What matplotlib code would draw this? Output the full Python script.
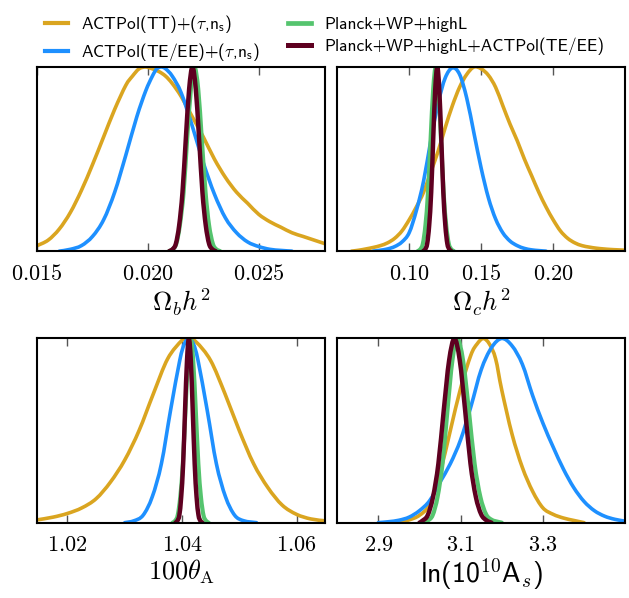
import matplotlib
matplotlib.use('Agg')
import matplotlib.pyplot as plt
from matplotlib.lines import Line2D
from matplotlib.path import Path
from matplotlib.patches import PathPatch

plt.rcParams['mathtext.fontset'] = 'cm'
plt.rcParams['axes.unicode_minus'] = False

# legend entries
labels = [r'ACTPol(TT)+($\tau$,n$_{\mathsf{s}}$)',
          r'ACTPol(TE/EE)+($\tau$,n$_{\mathsf{s}}$)',
          'Planck+WP+highL',
          'Planck+WP+highL+ACTPol(TE/EE)']
colors = ['#DAA520', '#1E90FF', '#55C46E', '#5E0020']

# --- Omega_b h^2 ---
ombh2_tt_x = [0.0150, 0.0155, 0.0160, 0.0165, 0.0170, 0.0175, 0.0180, 0.0185, 0.0190, 0.0193,
              0.0196, 0.0199, 0.0202, 0.0205, 0.0208, 0.0211, 0.0215, 0.0220, 0.0225, 0.0230,
              0.0235, 0.0240, 0.0245, 0.0250, 0.0255, 0.0260, 0.0265, 0.0270, 0.0275, 0.0280]
ombh2_tt_y = [0.03, 0.06, 0.12, 0.21, 0.33, 0.47, 0.62, 0.77, 0.90, 0.95,
              0.99, 1.00, 0.99, 0.975, 0.95, 0.91, 0.84, 0.73, 0.62, 0.50,
              0.40, 0.32, 0.26, 0.20, 0.16, 0.13, 0.10, 0.08, 0.06, 0.04]
ombh2_te_x = [0.0160, 0.0165, 0.0170, 0.0175, 0.0180, 0.0185, 0.0190, 0.0195, 0.0199, 0.0202,
              0.0204, 0.0206, 0.0208, 0.0211, 0.0215, 0.0220, 0.0225, 0.0230, 0.0235, 0.0240,
              0.0245, 0.0250, 0.0255, 0.0260, 0.0265]
ombh2_te_y = [0.0, 0.01, 0.03, 0.08, 0.17, 0.32, 0.52, 0.73, 0.87, 0.95,
              0.99, 1.0, 0.99, 0.95, 0.86, 0.68, 0.48, 0.31, 0.18, 0.10,
              0.05, 0.025, 0.01, 0.004, 0.0]
ombh2_pl_x = [0.02095, 0.02111, 0.02128, 0.02144, 0.02161, 0.02177, 0.02194, 0.02210,
              0.02227, 0.02243, 0.02260, 0.02276, 0.02293, 0.02309, 0.02326]
ombh2_pl_y = [0.0, 0.01, 0.04, 0.14, 0.32, 0.61, 0.88, 1.0, 0.88, 0.61, 0.32, 0.14, 0.04, 0.01, 0.0]
ombh2_pa_x = [0.02096, 0.02111, 0.02126, 0.02141, 0.02156, 0.02171, 0.02186, 0.02201,
              0.02216, 0.02231, 0.02246, 0.02261, 0.02276, 0.02291, 0.02306]
ombh2_pa_y = [0.0, 0.01, 0.04, 0.14, 0.32, 0.61, 0.88, 1.0, 0.88, 0.61, 0.32, 0.14, 0.04, 0.01, 0.0]

# --- Omega_c h^2 ---
omch2_tt_x = [0.060, 0.065, 0.070, 0.075, 0.080, 0.085, 0.090, 0.095, 0.100, 0.105,
              0.110, 0.115, 0.120, 0.125, 0.130, 0.135, 0.140, 0.145, 0.150, 0.155,
              0.160, 0.165, 0.170, 0.175, 0.180, 0.185, 0.190, 0.195, 0.200, 0.205,
              0.210, 0.215, 0.220, 0.225, 0.230, 0.235, 0.240, 0.245, 0.250]
omch2_tt_y = [0.000, 0.005, 0.012, 0.020, 0.030, 0.045, 0.070, 0.110, 0.170, 0.240,
              0.320, 0.430, 0.540, 0.670, 0.790, 0.890, 0.960, 1.000, 0.990, 0.955,
              0.890, 0.790, 0.690, 0.600, 0.500, 0.410, 0.320, 0.240, 0.170, 0.110,
              0.070, 0.045, 0.030, 0.022, 0.016, 0.012, 0.009, 0.007, 0.005]
omch2_te_x = [0.075, 0.080, 0.085, 0.090, 0.095, 0.100, 0.105, 0.110, 0.115, 0.120,
              0.125, 0.130, 0.135, 0.140, 0.145, 0.150, 0.155, 0.160, 0.165, 0.170,
              0.175, 0.180, 0.185, 0.190, 0.195]
omch2_te_y = [0.000, 0.005, 0.012, 0.025, 0.050, 0.100, 0.220, 0.380, 0.600, 0.800,
              0.940, 0.995, 0.960, 0.830, 0.640, 0.450, 0.290, 0.175, 0.100, 0.055,
              0.030, 0.015, 0.007, 0.003, 0.000]
omch2_pl_x = [0.1059, 0.1077, 0.1095, 0.1113, 0.1131, 0.1149, 0.1167, 0.1185,
              0.1203, 0.1221, 0.1239, 0.1257, 0.1275, 0.1293, 0.1311]
omch2_pl_y = [0.0, 0.01, 0.04, 0.14, 0.32, 0.61, 0.88, 1.0, 0.88, 0.61, 0.32, 0.14, 0.04, 0.01, 0.0]
omch2_pa_x = [0.1097, 0.1111, 0.1125, 0.1139, 0.1153, 0.1167, 0.1181, 0.1195,
              0.1209, 0.1223, 0.1237, 0.1251, 0.1265, 0.1279, 0.1293]
omch2_pa_y = [0.0, 0.01, 0.04, 0.14, 0.32, 0.61, 0.88, 1.0, 0.88, 0.61, 0.32, 0.14, 0.04, 0.01, 0.0]

# --- 100 theta_A ---
theta_tt_x = [1.0147, 1.0175, 1.0200, 1.0225, 1.0250, 1.0275, 1.0300, 1.0325, 1.0350, 1.0375,
              1.0400, 1.0410, 1.0425, 1.0450, 1.0475, 1.0500, 1.0525, 1.0550, 1.0575, 1.0600,
              1.0625, 1.0650]
theta_tt_y = [0.015, 0.03, 0.05, 0.08, 0.13, 0.22, 0.34, 0.50, 0.70, 0.89,
              0.99, 1.0, 0.98, 0.88, 0.70, 0.50, 0.32, 0.19, 0.095, 0.045,
              0.02, 0.01]
theta_te_x = [1.0300, 1.0316, 1.0332, 1.0348, 1.0364, 1.0380, 1.0396, 1.0404, 1.0412,
              1.0420, 1.0428, 1.0444, 1.0460, 1.0476, 1.0492, 1.0508, 1.0530]
theta_te_y = [0.0, 0.01, 0.04, 0.14, 0.32, 0.61, 0.88, 0.97, 1.0,
              0.97, 0.88, 0.61, 0.32, 0.14, 0.04, 0.01, 0.0]
theta_pl_x = [1.03835, 1.0388, 1.03925, 1.0397, 1.04015, 1.0406, 1.04105, 1.0415,
              1.04195, 1.0424, 1.04285, 1.0433, 1.04375, 1.0442, 1.04465]
theta_pl_y = [0.0, 0.01, 0.04, 0.14, 0.32, 0.61, 0.88, 1.0, 0.88, 0.61, 0.32, 0.14, 0.04, 0.01, 0.0]
theta_pa_x = [1.03886, 1.03919, 1.03953, 1.03986, 1.04020, 1.04053, 1.04087, 1.04120,
              1.04154, 1.04187, 1.04221, 1.04254, 1.04288, 1.04321, 1.04355]
theta_pa_y = [0.0, 0.01, 0.04, 0.14, 0.32, 0.61, 0.88, 1.0, 0.88, 0.61, 0.32, 0.14, 0.04, 0.01, 0.0]

# --- ln(10^10 A_s) ---
logA_tt_x = [2.950, 2.975, 3.000, 3.025, 3.050, 3.075, 3.100, 3.125, 3.140, 3.155,
             3.170, 3.185, 3.200, 3.225, 3.250, 3.275, 3.300, 3.325, 3.350, 3.375, 3.400]
logA_tt_y = [0.0, 0.015, 0.04, 0.10, 0.27, 0.50, 0.73, 0.91, 0.97, 1.0,
             0.97, 0.89, 0.72, 0.48, 0.30, 0.17, 0.08, 0.045, 0.025, 0.012, 0.0]
logA_te_x = [2.900, 2.925, 2.950, 2.975, 3.000, 3.025, 3.050, 3.075, 3.100, 3.125,
             3.150, 3.175, 3.200, 3.225, 3.250, 3.275, 3.300, 3.325, 3.350, 3.375,
             3.400, 3.425, 3.450, 3.475, 3.500]
logA_te_y = [0.000, 0.005, 0.013, 0.030, 0.065, 0.120, 0.220, 0.320, 0.450, 0.630,
             0.830, 0.950, 1.000, 0.960, 0.860, 0.690, 0.540, 0.410, 0.290, 0.190,
             0.115, 0.065, 0.035, 0.018, 0.008]
logA_pl_x = [3.016, 3.020, 3.032, 3.044, 3.056, 3.068, 3.080, 3.092,
             3.106, 3.120, 3.134, 3.148, 3.162, 3.176, 3.190, 3.200]
logA_pl_y = [0.0, 0.01, 0.04, 0.14, 0.32, 0.61, 0.88, 1.0,
             0.88, 0.61, 0.32, 0.14, 0.045, 0.015, 0.005, 0.0]
logA_pa_x = [3.000, 3.007, 3.020, 3.033, 3.046, 3.059, 3.072, 3.085,
             3.098, 3.111, 3.124, 3.137, 3.150, 3.163, 3.175]
logA_pa_y = [0.0, 0.01, 0.04, 0.14, 0.32, 0.61, 0.88, 1.0,
             0.88, 0.61, 0.32, 0.14, 0.045, 0.012, 0.0]

panels = [
    dict(curves=[(ombh2_tt_x, ombh2_tt_y), (ombh2_te_x, ombh2_te_y),
                 (ombh2_pl_x, ombh2_pl_y), (ombh2_pa_x, ombh2_pa_y)],
         xlim=(0.015, 0.028), ticks=[0.015, 0.020, 0.025], fmt='%.3f',
         xlabel=r'$\Omega_b h^2$', serif=True),
    dict(curves=[(omch2_tt_x, omch2_tt_y), (omch2_te_x, omch2_te_y),
                 (omch2_pl_x, omch2_pl_y), (omch2_pa_x, omch2_pa_y)],
         xlim=(0.05, 0.25), ticks=[0.10, 0.15, 0.20], fmt='%.2f',
         xlabel=r'$\Omega_c h^2$', serif=True),
    dict(curves=[(theta_tt_x, theta_tt_y), (theta_te_x, theta_te_y),
                 (theta_pl_x, theta_pl_y), (theta_pa_x, theta_pa_y)],
         xlim=(1.0147, 1.065), ticks=[1.02, 1.04, 1.06], fmt='%.2f',
         xlabel=r'$100\theta_{\rm A}$', serif=True),
    dict(curves=[(logA_tt_x, logA_tt_y), (logA_te_x, logA_te_y),
                 (logA_pl_x, logA_pl_y), (logA_pa_x, logA_pa_y)],
         xlim=(2.8, 3.5), ticks=[2.9, 3.1, 3.3], fmt='%.1f',
         xlabel=r'ln(10$^{\mathsf{10}}$A$_s$)', serif=False),
]


def smooth_path(x, y):
    # Catmull-Rom curve through the read points, drawn as cubic Bezier pieces
    n = len(x)
    verts = [(x[0], y[0])]
    codes = [Path.MOVETO]
    for i in range(n - 1):
        xa, ya = (x[i - 1], y[i - 1]) if i > 0 else (x[i], y[i])
        xd, yd = (x[i + 2], y[i + 2]) if i + 2 < n else (x[i + 1], y[i + 1])
        c1 = (x[i] + (x[i + 1] - xa) / 6, y[i] + (y[i + 1] - ya) / 6)
        c2 = (x[i + 1] - (xd - x[i]) / 6, y[i + 1] - (yd - y[i]) / 6)
        verts += [c1, c2, (x[i + 1], y[i + 1])]
        codes += [Path.CURVE4] * 3
    return Path(verts, codes)


# axes rectangles [left, bottom, width, height] in figure fractions
rects = [[0.059, 0.580, 0.458, 0.308], [0.536, 0.580, 0.458, 0.308],
         [0.059, 0.126, 0.458, 0.308], [0.536, 0.126, 0.458, 0.308]]
widths = [2.6, 2.6, 3.0, 3.2]

fig = plt.figure(figsize=(6.29, 5.98), dpi=100)

for p, r in zip(panels, rects):
    ax = fig.add_axes(r)
    for k, ((x, y), c, lw) in enumerate(zip(p['curves'], colors, widths)):
        ax.add_patch(PathPatch(smooth_path(x, y), fill=False, edgecolor=c, lw=lw,
                               capstyle='round', joinstyle='round', zorder=2 + k))
    ax.set_xlim(*p['xlim'])
    ax.set_ylim(0, 1.0)
    ax.set_yticks([])
    ax.set_xticks(p['ticks'])
    ax.set_xticklabels(['$' + p['fmt'] % t + '$' for t in p['ticks']], fontsize=16)
    ax.tick_params(axis='x', direction='in', top=True, length=6, width=1,
                   color='#555555', pad=9)
    for s in ax.spines.values():
        s.set_linewidth(1.5)
        s.set_zorder(10)
    if p['serif']:
        ax.set_xlabel(p['xlabel'], fontsize=19, labelpad=2)
    else:
        ax.set_xlabel(p['xlabel'], fontsize=20, family='cmss10', labelpad=1)

handles = [Line2D([], [], color=c, lw=lw + 0.4) for c, lw in zip(colors, widths)]
fig.legend(handles, labels, ncol=2, frameon=False, loc='upper left',
           bbox_to_anchor=(0.046, 1.005), prop={'family': 'cmss10', 'size': 12.5},
           handlelength=1.35, handletextpad=0.75, columnspacing=1.6, labelspacing=0.35)

fig.savefig('out.png', dpi=100)
